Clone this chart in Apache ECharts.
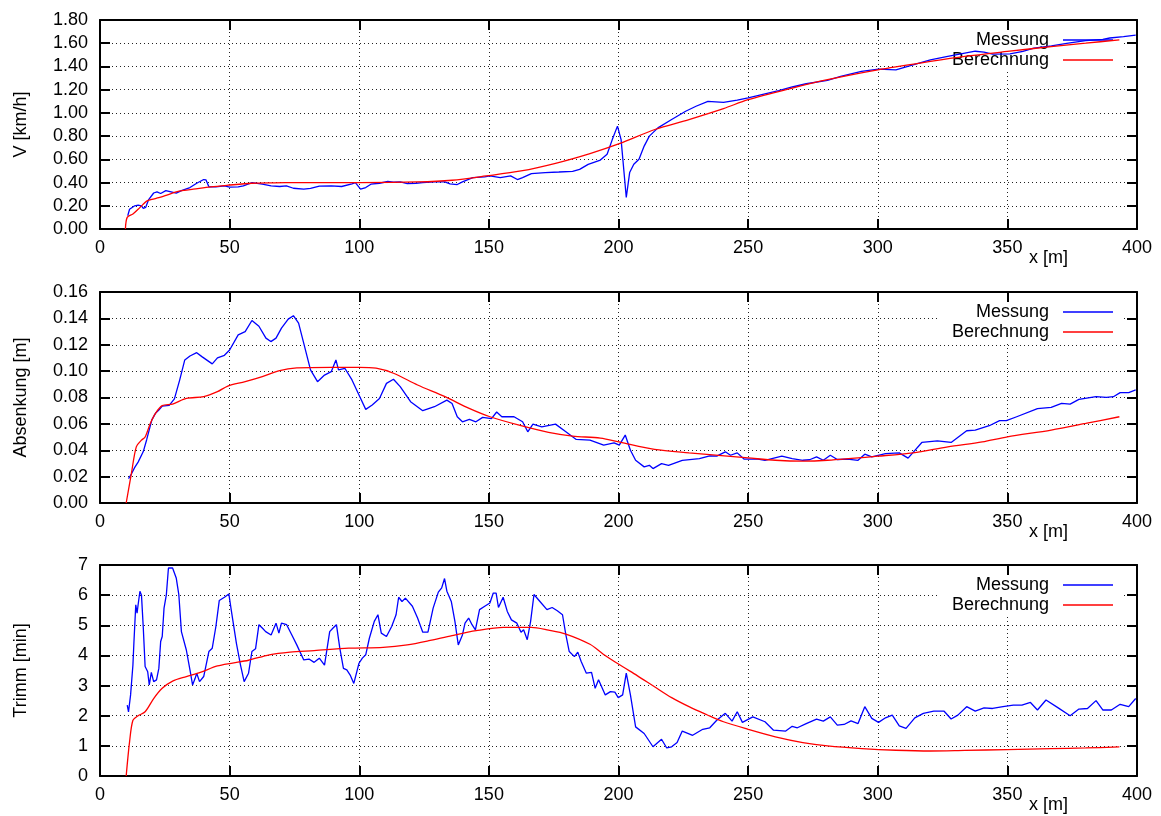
<!DOCTYPE html>
<html>
<head>
<meta charset="utf-8">
<title>Messung / Berechnung</title>
<script src="https://cdn.jsdelivr.net/npm/echarts@6/dist/echarts.min.js"></script>
<style>
  html, body { margin: 0; padding: 0; background: #fff; }
  #chart { width: 1161px; height: 816px; }
</style>
</head>
<body>
<div id="chart"></div>
<script>
// Axis ranges: [min, max, interval]
const xRange = [0, 400, 50];
const vRange = [0, 1.8, 0.2];
const aRange = [0, 0.16, 0.02];
const tRange = [0, 7, 1];

const yNames = ['V [km/h]', 'Absenkung [m]', 'Trimm [min]'];
const seriesNames = ['Messung', 'Berechnung'];

// Geschwindigkeit V [km/h] über x [m]
const vMessung = [[10.7,0.114],[11.4,0.17],[13.4,0.20],[14.7,0.205],[16.0,0.20],[16.7,0.177],[17.6,0.186],[18.7,0.25],[20.7,0.31],[22.0,0.32],[23.4,0.306],[25.4,0.33],[27.4,0.32],[29.4,0.309],[31.4,0.33],[34.7,0.357],[37.3,0.394],[40.0,0.426],[40.9,0.423],[42.0,0.363],[44.7,0.363],[48.0,0.371],[50.0,0.36],[53.3,0.363],[55.3,0.371],[58.6,0.40],[62.6,0.386],[66.0,0.371],[69.3,0.366],[71.9,0.371],[74.6,0.351],[78.6,0.343],[81.2,0.349],[84.6,0.369],[89.2,0.371],[93.2,0.366],[97.2,0.389],[98.5,0.40],[100.5,0.343],[102.5,0.357],[104.5,0.386],[107.8,0.394],[111.0,0.409],[113.2,0.403],[115.8,0.406],[118.5,0.391],[121.8,0.394],[124.5,0.40],[129.0,0.406],[133.0,0.406],[135.0,0.389],[137.8,0.383],[139.8,0.406],[143.8,0.443],[148.4,0.449],[150.4,0.457],[154.4,0.443],[158.4,0.457],[161.0,0.426],[163.0,0.443],[166.4,0.477],[171.7,0.486],[177.0,0.491],[182.3,0.497],[185.0,0.514],[188.3,0.557],[193.0,0.594],[195.6,0.643],[197.6,0.77],[199.6,0.886],[201.0,0.77],[203.0,0.271],[204.3,0.486],[205.9,0.557],[207.9,0.60],[209.9,0.714],[211.9,0.80],[215.2,0.871],[220.5,0.943],[225.9,1.014],[229.9,1.057],[234.5,1.10],[240.5,1.09],[245.8,1.109],[250.0,1.129],[256.5,1.163],[261.8,1.191],[267.0,1.223],[272.4,1.251],[280.6,1.28],[285.7,1.314],[293.7,1.357],[300.3,1.377],[307.0,1.371],[313.6,1.414],[320.3,1.457],[327.0,1.486],[333.6,1.514],[337.6,1.531],[341.0,1.523],[344.3,1.506],[351.0,1.509],[356.0,1.529],[360.2,1.557],[367.0,1.577],[373.5,1.60],[380.2,1.623],[386.8,1.634],[389.5,1.645],[394.8,1.657],[399.5,1.669]];
const vBerechnung = [[9.8,0],[10.5,0.10],[12.7,0.13],[14.7,0.17],[16.5,0.21],[18.0,0.24],[20.0,0.255],[22.7,0.27],[25.5,0.29],[29.4,0.32],[32.5,0.333],[36.0,0.343],[42.7,0.363],[49.3,0.377],[58.6,0.394],[67.0,0.398],[75.9,0.40],[100.0,0.40],[122.5,0.405],[135.8,0.42],[149.0,0.457],[162.4,0.50],[175.7,0.566],[189.0,0.65],[200.6,0.737],[214.0,0.857],[227.2,0.943],[240.5,1.037],[250.0,1.114],[267.0,1.214],[280.6,1.286],[300.0,1.371],[320.3,1.443],[333.6,1.486],[350.0,1.529],[366.9,1.571],[380.2,1.60],[393.2,1.629]];

// Absenkung [m] über x [m]
const aMessung = [[11.0,0.0185],[12.1,0.022],[13.4,0.027],[14.7,0.031],[16.7,0.039],[18.0,0.048],[20.0,0.063],[21.4,0.068],[22.7,0.0705],[24.0,0.0735],[26.7,0.074],[28.7,0.079],[30.7,0.093],[32.7,0.1085],[34.7,0.1115],[37.3,0.114],[39.3,0.111],[43.3,0.1055],[45.3,0.110],[48.0,0.112],[50.0,0.116],[53.3,0.1275],[56.0,0.130],[58.6,0.1384],[61.3,0.134],[64.0,0.125],[65.9,0.1224],[67.9,0.125],[70.0,0.1326],[72.6,0.1394],[74.6,0.142],[76.6,0.1364],[78.6,0.121],[81.2,0.1009],[83.9,0.092],[86.6,0.097],[89.2,0.0996],[91.0,0.1085],[92.0,0.1009],[94.5,0.102],[97.2,0.0933],[99.9,0.0819],[102.5,0.071],[105.0,0.0743],[107.8,0.0793],[110.5,0.0907],[113.2,0.0938],[115.8,0.0882],[119.8,0.0768],[124.5,0.070],[129.0,0.073],[133.8,0.078],[135.8,0.0755],[137.8,0.0654],[139.8,0.0616],[142.5,0.0634],[145.0,0.0616],[147.6,0.0649],[151.0,0.064],[153.0,0.069],[155.0,0.0654],[159.7,0.0654],[163.0,0.0616],[165.0,0.054],[167.0,0.0598],[170.4,0.0578],[175.7,0.0598],[179.7,0.054],[183.7,0.0482],[189.0,0.0477],[194.3,0.0439],[198.3,0.0456],[200.3,0.0439],[202.6,0.0515],[204.6,0.040],[206.6,0.0324],[209.9,0.0274],[211.9,0.0286],[213.3,0.0261],[216.6,0.0299],[219.3,0.0286],[224.6,0.0324],[231.2,0.0337],[235.2,0.0357],[237.9,0.0355],[241.2,0.0388],[243.2,0.0362],[245.8,0.038],[248.5,0.0332],[253.8,0.0332],[256.5,0.0324],[263.0,0.0355],[267.0,0.0337],[271.1,0.0324],[273.7,0.0328],[276.4,0.035],[279.0,0.0324],[281.7,0.0362],[284.4,0.033],[288.4,0.0332],[292.4,0.0324],[295.0,0.037],[297.7,0.035],[303.0,0.0375],[308.3,0.038],[311.7,0.034],[317.0,0.0459],[323.0,0.0471],[328.3,0.0459],[334.3,0.0548],[337.6,0.0553],[343.0,0.0586],[347.0,0.0624],[349.6,0.0624],[353.6,0.0654],[361.6,0.0715],[366.9,0.0725],[370.9,0.0755],[374.2,0.075],[377.6,0.0786],[384.2,0.0806],[388.2,0.0801],[390.9,0.0806],[393.5,0.0837],[396.8,0.0837],[399.5,0.0857]];
const aBerechnung = [[10.1,0],[12.1,0.0223],[14.0,0.0426],[16.0,0.0477],[17.4,0.050],[19.4,0.0603],[21.4,0.068],[24.0,0.0738],[28.0,0.075],[33.3,0.0793],[40.0,0.0806],[45.3,0.0844],[49.3,0.0887],[56.0,0.092],[62.6,0.0958],[69.3,0.1004],[75.9,0.1024],[89.2,0.1029],[99.9,0.1029],[106.5,0.1022],[113.2,0.0984],[122.5,0.0895],[133.1,0.0806],[142.4,0.0717],[150.4,0.0654],[162.4,0.0586],[173.0,0.0535],[182.3,0.0507],[193.0,0.0492],[200.6,0.0461],[213.9,0.0406],[227.2,0.038],[250.0,0.0342],[260.5,0.0324],[271.1,0.0317],[280.6,0.0324],[300.0,0.0355],[313.6,0.038],[327.0,0.0426],[340.3,0.0464],[350.0,0.0502],[366.9,0.0553],[380.2,0.0603],[393.2,0.0654]];

// Trimm [min] über x [m]
const tMessung = [[10.5,2.35],[11.0,2.13],[11.8,2.69],[12.7,3.68],[13.1,4.46],[13.8,5.68],[14.3,5.4],[14.7,5.68],[15.4,6.13],[16.0,6.0],[16.7,4.91],[17.4,3.63],[18.4,3.46],[19.0,3.02],[19.8,3.44],[20.7,3.13],[21.8,3.19],[22.7,3.57],[23.4,4.46],[24.0,4.63],[24.7,5.57],[25.6,6.02],[26.4,6.9],[28.0,6.9],[29.4,6.57],[30.4,6.02],[31.4,4.79],[33.3,4.18],[34.7,3.52],[35.7,3.02],[36.7,3.24],[37.3,3.41],[38.4,3.13],[40.0,3.3],[42.0,4.13],[43.3,4.24],[44.7,4.96],[46.0,5.82],[48.0,5.93],[49.7,6.04],[50.6,5.52],[52.6,4.41],[54.2,3.68],[55.6,3.13],[57.3,3.41],[58.6,4.13],[60.0,4.22],[61.3,5.02],[62.6,4.91],[63.9,4.79],[66.0,4.68],[67.9,5.07],[69.0,4.74],[70.0,5.07],[72.0,5.02],[74.0,4.68],[75.9,4.35],[78.6,3.85],[80.6,3.88],[82.6,3.77],[84.6,3.91],[86.6,3.68],[88.6,4.79],[89.9,4.91],[91.2,5.02],[92.5,4.24],[93.9,3.57],[95.2,3.52],[96.5,3.35],[97.9,3.07],[99.9,3.74],[101.2,3.91],[102.5,4.02],[103.9,4.57],[105.8,5.13],[107.2,5.35],[108.5,4.74],[110.5,4.63],[112.5,4.96],[114.2,5.35],[115.2,5.93],[116.5,5.79],[117.8,5.9],[120.5,5.63],[122.5,5.24],[124.5,4.77],[126.5,4.77],[128.5,5.57],[130.5,6.1],[131.8,6.24],[132.9,6.55],[133.8,6.13],[135.5,5.79],[136.9,5.13],[138.2,4.35],[139.8,4.68],[140.8,5.07],[142.2,5.24],[143.5,5.02],[144.8,4.85],[146.4,5.52],[148.4,5.63],[150.4,5.74],[151.7,6.07],[152.8,6.07],[153.7,5.59],[155.5,5.93],[157.1,5.46],[158.7,5.18],[160.8,5.07],[162.4,4.77],[163.4,4.85],[164.8,4.52],[166.1,5.13],[167.4,6.02],[169.7,5.79],[172.4,5.52],[174.4,5.59],[176.4,5.48],[178.4,5.35],[179.7,4.68],[181.0,4.13],[183.0,3.96],[184.3,4.11],[185.6,3.8],[187.6,3.41],[189.6,3.44],[191.0,2.91],[192.3,3.19],[194.9,2.69],[196.9,2.8],[198.6,2.78],[199.9,2.6],[201.6,2.69],[203.0,3.41],[204.6,2.69],[206.6,1.63],[209.9,1.41],[213.3,0.97],[216.6,1.22],[218.6,0.93],[220.5,0.97],[222.6,1.11],[224.6,1.49],[228.6,1.35],[232.5,1.55],[235.2,1.6],[237.9,1.85],[241.2,2.08],[243.8,1.82],[245.8,2.13],[247.8,1.78],[251.8,1.96],[256.5,1.8],[259.8,1.52],[264.5,1.49],[267.0,1.65],[269.0,1.6],[272.4,1.74],[276.4,1.89],[279.0,1.82],[281.7,1.96],[284.4,1.69],[287.0,1.71],[289.7,1.83],[292.4,1.74],[295.0,2.3],[297.7,1.91],[300.3,1.78],[303.0,1.93],[305.6,2.02],[308.3,1.66],[310.9,1.58],[314.3,1.93],[317.6,2.08],[321.6,2.15],[325.6,2.15],[328.3,1.89],[330.9,2.02],[334.3,2.3],[337.6,2.15],[341.0,2.26],[344.3,2.24],[348.3,2.3],[352.3,2.35],[355.6,2.35],[358.9,2.44],[361.6,2.19],[364.9,2.52],[369.6,2.26],[374.2,2.0],[377.6,2.22],[380.9,2.24],[384.2,2.5],[386.8,2.19],[390.1,2.19],[393.5,2.38],[396.8,2.3],[399.5,2.57]];
const tBerechnung = [[10.1,0],[11.4,1.13],[12.7,1.85],[14.7,2.0],[17.4,2.13],[20.7,2.57],[24.0,2.91],[28.0,3.15],[33.3,3.30],[38.7,3.44],[45.3,3.65],[50.6,3.74],[57.3,3.84],[65.3,4.02],[73.3,4.11],[82.6,4.16],[95.9,4.24],[109.2,4.27],[118.5,4.35],[126.5,4.48],[135.8,4.66],[145.1,4.82],[155.7,4.93],[166.4,4.93],[173.0,4.84],[179.7,4.71],[189.0,4.37],[194.0,4.05],[200.6,3.68],[207.2,3.33],[213.9,2.96],[220.5,2.60],[227.2,2.30],[233.9,2.04],[240.5,1.80],[250.0,1.55],[260.5,1.30],[271.1,1.11],[280.6,1.00],[293.9,0.91],[307.0,0.855],[320.3,0.83],[333.6,0.85],[350.0,0.877],[366.9,0.91],[380.2,0.93],[393.2,0.966]];

const FONT = '"Liberation Sans", Arial, Helvetica, sans-serif';
const panelTops = [20, 292, 565];
const panelHeights = [209, 211, 211];
const panels = [
  { range: vRange, fmt: v => v.toFixed(2), data: [vMessung, vBerechnung] },
  { range: aRange, fmt: v => v.toFixed(2), data: [aMessung, aBerechnung] },
  { range: tRange, fmt: v => String(Math.round(v)), data: [tMessung, tBerechnung] }
];
const colors = ['#0000ff', '#ff0000'];

const axisLine = { show: true, onZero: false, lineStyle: { color: '#000', width: 2 } };
const axisTick = { show: true, inside: true, length: 10, lineStyle: { color: '#000', width: 2 } };
const gridLine = { show: true, lineStyle: { color: '#222', width: 1, type: [1, 3] } };

const grid = [], xAxis = [], yAxis = [], series = [], legend = [], graphic = [];

panels.forEach((p, i) => {
  grid.push({ left: 100, right: 24, top: panelTops[i], height: panelHeights[i], containLabel: false });

  // bottom x axis with labels, top x axis mirrors the ticks
  xAxis.push({
    type: 'value', gridIndex: i, position: 'bottom',
    min: xRange[0], max: xRange[1], interval: xRange[2],
    axisLine, axisTick, splitLine: gridLine,
    axisLabel: { color: '#000', fontSize: 18, fontFamily: FONT, margin: 10 }
  });
  xAxis.push({
    type: 'value', gridIndex: i, position: 'top',
    min: xRange[0], max: xRange[1], interval: xRange[2],
    axisLine, axisTick, splitLine: { show: false }, axisLabel: { show: false }
  });

  yAxis.push({
    type: 'value', gridIndex: i, position: 'left',
    min: p.range[0], max: p.range[1], interval: p.range[2],
    name: yNames[i], nameLocation: 'middle', nameGap: 70,
    nameTextStyle: { color: '#000', fontSize: 18, fontFamily: FONT },
    axisLine, axisTick, splitLine: gridLine,
    axisLabel: { color: '#000', fontSize: 18, fontFamily: FONT, margin: 12, formatter: p.fmt }
  });
  yAxis.push({
    type: 'value', gridIndex: i, position: 'right',
    min: p.range[0], max: p.range[1], interval: p.range[2],
    axisLine, axisTick, splitLine: { show: false }, axisLabel: { show: false }
  });

  p.data.forEach((d, k) => {
    series.push({
      name: seriesNames[k], type: 'line',
      xAxisIndex: 2 * i, yAxisIndex: 2 * i,
      data: d, showSymbol: false, symbol: 'none',
      smooth: k === 1 ? 0.3 : false,
      lineStyle: { color: colors[k], width: 1.3 },
      itemStyle: { color: colors[k] },
      z: 3
    });
  });

  // key: text right-aligned, line sample on the right, opaque box over the grid
  legend.push({
    orient: 'vertical', align: 'right',
    right: 40, top: panelTops[i] + 10,
    padding: [1, 8, 1, 13], itemGap: 2,
    backgroundColor: '#fff',
    icon: 'rect', itemWidth: 50, itemHeight: 1.5,
    data: seriesNames,
    selectedMode: false,
    textStyle: { color: '#000', fontSize: 18, fontFamily: FONT, padding: [0, 9, 0, 0] },
    z: 1
  });

  graphic.push({
    type: 'text', left: 1029, top: panelTops[i] + panelHeights[i] + 20,
    style: { text: 'x [m]', fontSize: 18, fontFamily: FONT, fill: '#000' }
  });
});

const chart = echarts.init(document.getElementById('chart'), null, { renderer: 'canvas' });
chart.setOption({
  animation: false,
  backgroundColor: '#fff',
  grid, xAxis, yAxis, series, legend, graphic
});
</script>
</body>
</html>
